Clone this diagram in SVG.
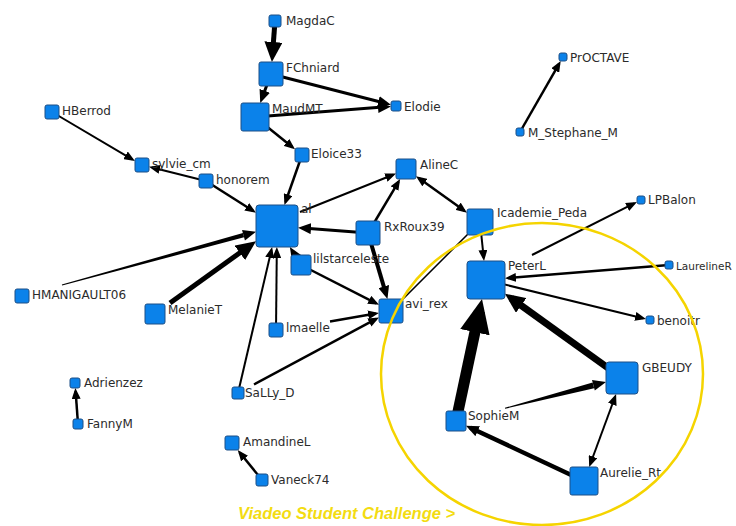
<svg xmlns="http://www.w3.org/2000/svg" width="736" height="526" viewBox="0 0 736 526">
<style>
.nd{fill:#0b82ea;stroke:#1d4f86;stroke-width:1}
.lb{font-family:"DejaVu Sans",sans-serif;font-size:12px;fill:#2b2b2b}
.e{stroke:#000;fill:none}
.a{marker-end:url(#mA)}
.b{marker-end:url(#mB)}
.c{marker-end:url(#mC)}
.d{marker-end:url(#mD)}
.t{fill:#000;stroke:none}
</style>
<defs>
<marker id="mA" markerUnits="userSpaceOnUse" viewBox="0 0 11 9" markerWidth="11" markerHeight="9" refX="7.8" refY="4.5" orient="auto-start-reverse"><path d="M0,0 L11,4.5 L0,9 z" fill="#000"/></marker>
<marker id="mB" markerUnits="userSpaceOnUse" viewBox="0 0 13 11" markerWidth="13" markerHeight="11" refX="8.2" refY="5.5" orient="auto-start-reverse"><path d="M0,0 L13,5.5 L0,11 z" fill="#000"/></marker>
<marker id="mC" markerUnits="userSpaceOnUse" viewBox="0 0 20 18" markerWidth="20" markerHeight="18" refX="12.2" refY="9" orient="auto-start-reverse"><path d="M0,0 L20,9 L0,18 z" fill="#000"/></marker>
<marker id="mD" markerUnits="userSpaceOnUse" viewBox="0 0 34 30" markerWidth="34" markerHeight="30" refX="21.5" refY="15" orient="auto-start-reverse"><path d="M0,0 L34,15 L0,30 z" fill="#000"/></marker>
</defs>
<rect width="736" height="526" fill="#fff"/>
<g id="connectors">
<line class="e c" stroke-width="5" x1="275" y1="21" x2="272.5" y2="54.2"/>
<line class="e b" stroke-width="3" x1="271" y1="74" x2="261.9" y2="98.5"/>
<line class="e b" stroke-width="3" x1="271" y1="74" x2="386.3" y2="103.5"/>
<line class="e b" stroke-width="3" x1="255" y1="117" x2="386.2" y2="106.8"/>
<line class="e a" stroke-width="2.5" x1="255" y1="117" x2="292.5" y2="147.3"/>
<line class="e a" stroke-width="2.5" x1="302" y1="155" x2="285.5" y2="202"/>
<line class="e a" stroke-width="2" x1="52" y1="112" x2="132.2" y2="159.3"/>
<line class="e a" stroke-width="2" x1="206" y1="181" x2="152.1" y2="167.5"/>
<line class="e a" stroke-width="2.5" x1="206" y1="181" x2="253.3" y2="211"/>
<polygon class="t" points="62.13,285.48 244.08,237.32 242.92,233.08 61.87,284.52"/>
<polygon class="t" points="256,231.8 244.96,240.5 242.04,229.9"/>
<line class="e c" stroke-width="5" x1="170" y1="303" x2="249.7" y2="245.7"/>
<line class="e a" stroke-width="2" x1="238" y1="393" x2="271.4" y2="250.1"/>
<line class="e a" stroke-width="2" x1="276" y1="330" x2="276.8" y2="250.2"/>
<line class="e b" stroke-width="3" x1="301" y1="265" x2="292.4" y2="251.1"/>
<line class="e b" stroke-width="3" x1="368" y1="233" x2="302.8" y2="228"/>
<line class="e a" stroke-width="2" x1="300" y1="212" x2="393.1" y2="174.7"/>
<line class="e a" stroke-width="2.5" x1="368" y1="233" x2="398.5" y2="181.8"/>
<line class="e a" stroke-width="2.5" x1="418.6" y1="178.1" x2="464.4" y2="210.8" marker-start="url(#mA)"/>
<line class="e b" stroke-width="4" x1="368" y1="233" x2="386.1" y2="294.4"/>
<line class="e a" stroke-width="2.5" x1="301" y1="265" x2="376.2" y2="303.4"/>
<line class="e a" stroke-width="2.5" x1="330" y1="321.5" x2="375.8" y2="313.5"/>
<line class="e a" stroke-width="2.5" x1="254" y1="384.5" x2="376.2" y2="318.9"/>
<line class="e" stroke-width="1.5" x1="398" y1="304" x2="470" y2="232"/>
<line class="e a" stroke-width="2" x1="480" y1="222" x2="483.7" y2="257.8"/>
<line class="e a" stroke-width="2" x1="532" y1="255" x2="634.1" y2="203.4"/>
<line class="e a" stroke-width="2.5" x1="669" y1="265" x2="508.2" y2="278.1"/>
<line class="e a" stroke-width="2" x1="486" y1="280" x2="642.9" y2="318.2"/>
<line class="e d" stroke-width="11" x1="456" y1="421" x2="479.4" y2="311.2"/>
<line class="e c" stroke-width="7" x1="622" y1="378" x2="511.3" y2="298.3"/>
<polygon class="t" points="505.13,408.78 594.16,388.2 592.64,382.4 504.87,407.82"/>
<polygon class="t" points="606,382 594.79,390.62 592.01,379.98"/>
<line class="e a" stroke-width="2" x1="590.3" y1="464" x2="615" y2="397" marker-start="url(#mA)"/>
<line class="e b" stroke-width="4.5" x1="584" y1="481" x2="470.3" y2="427.7"/>
<line class="e a" stroke-width="2.5" x1="520" y1="132" x2="559.1" y2="63.8"/>
<line class="e a" stroke-width="2.5" x1="78" y1="424" x2="75.6" y2="391.2"/>
<line class="e a" stroke-width="2.5" x1="262" y1="480" x2="239.7" y2="452.5"/>
</g>
<g id="n-MagdaC"><rect class="nd" x="269" y="15" width="12" height="12" rx="2"/><text class="lb" x="286" y="25">MagdaC</text></g>
<g id="n-FChniard"><rect class="nd" x="259" y="62" width="24" height="24" rx="2"/><text class="lb" x="286" y="72">FChniard</text></g>
<g id="n-MaudMT"><rect class="nd" x="241" y="103" width="28" height="28" rx="2"/><text class="lb" x="272" y="113">MaudMT</text></g>
<g id="n-Elodie"><rect class="nd" x="391" y="101" width="10" height="10" rx="2"/><text class="lb" x="404" y="111">Elodie</text></g>
<g id="n-Eloice33"><rect class="nd" x="295" y="148" width="14" height="14" rx="2"/><text class="lb" x="311" y="158">Eloice33</text></g>
<g id="n-AlineC"><rect class="nd" x="396" y="159" width="20" height="20" rx="2"/><text class="lb" x="420" y="169">AlineC</text></g>
<g id="n-HBerrod"><rect class="nd" x="45" y="105" width="14" height="14" rx="2"/><text class="lb" x="62" y="115">HBerrod</text></g>
<g id="n-sylvie_cm"><rect class="nd" x="135" y="158" width="14" height="14" rx="2"/><text class="lb" x="152" y="168">sylvie_cm</text></g>
<g id="n-honorem"><rect class="nd" x="199" y="174" width="14" height="14" rx="2"/><text class="lb" x="216" y="184">honorem</text></g>
<g id="n-al"><rect class="nd" x="256" y="205" width="42" height="42" rx="3"/><text class="lb" x="301" y="213">al</text></g>
<g id="n-RxRoux39"><rect class="nd" x="356" y="221" width="24" height="24" rx="2"/><text class="lb" x="384" y="231">RxRoux39</text></g>
<g id="n-lilstarceleste"><rect class="nd" x="291" y="255" width="20" height="20" rx="2"/><text class="lb" x="313" y="263">lilstarceleste</text></g>
<g id="n-avi_rex"><rect class="nd" x="379" y="299" width="24" height="24" rx="2"/><text class="lb" x="405" y="308">avi_rex</text></g>
<g id="n-lmaelle"><rect class="nd" x="269" y="323" width="14" height="14" rx="2"/><text class="lb" x="286" y="332">lmaelle</text></g>
<g id="n-HMANIGAULT06"><rect class="nd" x="15" y="289" width="14" height="14" rx="2"/><text class="lb" x="32" y="299">HMANIGAULT06</text></g>
<g id="n-MelanieT"><rect class="nd" x="145" y="304" width="20" height="20" rx="2"/><text class="lb" x="168" y="314">MelanieT</text></g>
<g id="n-SaLLy_D"><rect class="nd" x="232" y="387" width="12" height="12" rx="2"/><text class="lb" x="245" y="397">SaLLy_D</text></g>
<g id="n-Adrienzez"><rect class="nd" x="70" y="378" width="10" height="10" rx="2"/><text class="lb" x="84" y="387">Adrienzez</text></g>
<g id="n-FannyM"><rect class="nd" x="73" y="419" width="10" height="10" rx="2"/><text class="lb" x="87" y="428">FannyM</text></g>
<g id="n-AmandineL"><rect class="nd" x="225" y="436" width="14" height="14" rx="2"/><text class="lb" x="243" y="446">AmandineL</text></g>
<g id="n-Vaneck74"><rect class="nd" x="256" y="474" width="12" height="12" rx="2"/><text class="lb" x="271" y="484">Vaneck74</text></g>
<g id="n-PrOCTAVE"><rect class="nd" x="559" y="53" width="8" height="8" rx="2"/><text class="lb" x="570" y="62">PrOCTAVE</text></g>
<g id="n-M_Stephane_M"><rect class="nd" x="516" y="128" width="8" height="8" rx="2"/><text class="lb" x="528" y="137">M_Stephane_M</text></g>
<g id="n-Icademie_Peda"><rect class="nd" x="467" y="209" width="26" height="26" rx="2"/><text class="lb" x="497" y="217">Icademie_Peda</text></g>
<g id="n-PeterL"><rect class="nd" x="467" y="261" width="38" height="38" rx="3"/><text class="lb" x="508" y="270">PeterL</text></g>
<g id="n-LPBalon"><rect class="nd" x="637" y="196" width="8" height="8" rx="2"/><text class="lb" x="648" y="204">LPBalon</text></g>
<g id="n-LaurelineR"><rect class="nd" x="665" y="261" width="8" height="8" rx="2"/><text class="lb" x="676" y="270" style="font-size:10.5px">LaurelineR</text></g>
<g id="n-benoitr"><rect class="nd" x="646" y="316" width="8" height="8" rx="2"/><text class="lb" x="657" y="325">benoitr</text></g>
<g id="n-GBEUDY"><rect class="nd" x="606" y="362" width="32" height="32" rx="3"/><text class="lb" x="642" y="372">GBEUDY</text></g>
<g id="n-SophieM"><rect class="nd" x="446" y="411" width="20" height="20" rx="2"/><text class="lb" x="468" y="420">SophieM</text></g>
<g id="n-Aurelie_Rt"><rect class="nd" x="570" y="467" width="28" height="28" rx="2"/><text class="lb" x="600" y="477">Aurelie_Rt</text></g>
<ellipse cx="542" cy="374" rx="161" ry="151" fill="none" stroke="#f5d400" stroke-width="2.5"/>
<text x="238" y="519" font-family="Liberation Sans, sans-serif" font-size="16.5" font-weight="bold" font-style="italic" fill="#f3dc12">Viadeo Student Challenge &gt;</text>
</svg>
